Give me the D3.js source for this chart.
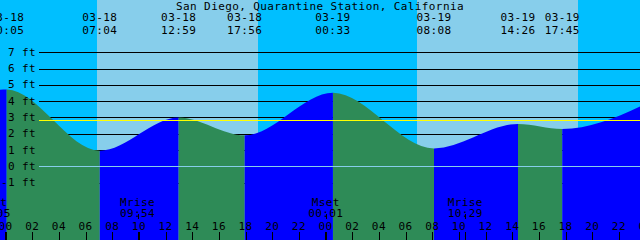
<!DOCTYPE html>
<html>
<head>
<meta charset="utf-8">
<script src="https://cdn.jsdelivr.net/npm/d3@7"></script>
<style>
  html, body { margin: 0; padding: 0; background: #fff; }
  svg { display: block; }
  text { font-family: "DejaVu Sans Mono", monospace; font-size: 11px; letter-spacing: 0.4px; fill: #000; }
</style>
</head>
<body>
<svg id="chart" width="640" height="240"></svg>
<script>
const title = 'San Diego, Quarantine Station, California';

// tide extremes (first and last are off-screen, they only shape the edges)
const tideTimes = ['03-17 17:30', '03-18 00:05', '03-18 07:04', '03-18 12:59', '03-18 17:56',
  '03-19 00:33', '03-19 08:08', '03-19 14:26', '03-19 17:45', '03-20 01:10'];
const tideHeights = [1.6, 4.72, 0.96, 3.0, 1.9, 4.52, 1.1, 2.6, 2.29, 4.3];

// daylight
const sunrise = ['03-18 06:51', '03-19 06:50'];
const sunset = ['03-18 18:54', '03-19 18:58'];

// moon events
const moonNames = ['Mset', 'Mrise', 'Mset', 'Mrise'];
const moonTimes = ['03-17 23:05', '03-18 09:54', '03-19 00:01', '03-19 10:29'];

const depthTicks = [-1, 0, 1, 2, 3, 4, 5, 6, 7];
const meanLevel = 2.82;

const colors = {
  night: '#00bfff',
  day: '#87ceeb',
  flood: '#0000ff',
  ebb: '#2e8b57',
  datum: '#87ceeb',
  mean: '#ffff00',
};

const parse = d3.utcParse('%m-%d %H:%M');
const width = 640;
const height = 240;
const svg = d3.select('#chart');

const start = parse('03-17 23:35');
const end = d3.utcHour.offset(start, 48);
const x = d3.scaleUtc().domain([start, end]).range([0, width]);
const y = d3.scaleLinear().domain([-1, 7]).range([182.6, 52.3]);

const tides = tideTimes.map((t, i) => ({ time: parse(t), h: tideHeights[i] }));

// sky: night background, day bands on top
svg.append('rect')
  .attr('width', width)
  .attr('height', height)
  .attr('fill', colors.night);

svg.append('g')
  .selectAll('rect')
  .data(sunrise)
  .join('rect')
  .attr('x', (d) => x(parse(d)))
  .attr('width', (d, i) => x(parse(sunset[i])) - x(parse(d)))
  .attr('height', height)
  .attr('fill', colors.day)
  .attr('shape-rendering', 'crispEdges');

// depth grid behind the water
svg.append('g')
  .selectAll('line')
  .data(depthTicks.filter((d) => d !== 0))
  .join('line')
  .attr('x1', 39)
  .attr('x2', width)
  .attr('y1', (d) => Math.round(y(d)) + 0.5)
  .attr('y2', (d) => Math.round(y(d)) + 0.5)
  .attr('stroke', '#000')
  .attr('shape-rendering', 'crispEdges');

// water: one area, clipped per segment between extremes
const area = d3.area()
  .x((d) => x(d.time))
  .y0(height)
  .y1((d) => y(d.h))
  .curve(d3.curveMonotoneX);
const waterPath = area(tides);

const defs = svg.append('defs');
const water = svg.append('g');
tides.slice(0, -1).forEach((d, i) => {
  const next = tides[i + 1];
  const id = `seg${i}`;
  defs.append('clipPath')
    .attr('id', id)
    .append('rect')
    .attr('x', x(d.time))
    .attr('width', x(next.time) - x(d.time))
    .attr('y', 0)
    .attr('height', height);
  water.append('path')
    .attr('d', waterPath)
    .attr('clip-path', `url(#${id})`)
    .attr('fill', next.h > d.h ? colors.flood : colors.ebb);
});

// datum and mean lines over the water
svg.append('line')
  .attr('x1', 39).attr('x2', width)
  .attr('y1', Math.round(y(0)) + 0.5).attr('y2', Math.round(y(0)) + 0.5)
  .attr('stroke', colors.datum)
  .attr('shape-rendering', 'crispEdges');
svg.append('line')
  .attr('x1', 39).attr('x2', width)
  .attr('y1', Math.round(y(meanLevel)) + 0.5).attr('y2', Math.round(y(meanLevel)) + 0.5)
  .attr('stroke', colors.mean)
  .attr('shape-rendering', 'crispEdges');

// depth labels
svg.append('g')
  .selectAll('text')
  .data(depthTicks)
  .join('text')
  .attr('x', 36)
  .attr('y', (d) => y(d) + 3.5)
  .attr('text-anchor', 'end')
  .text((d) => `${d} ft`);

// title
svg.append('text')
  .attr('x', width / 2)
  .attr('y', 10)
  .attr('text-anchor', 'middle')
  .text(title);

// extreme labels on top
const fmtDate = d3.utcFormat('%m-%d');
const fmtTime = d3.utcFormat('%H:%M');
const shown = tides.filter((d) => d.time >= start && d.time <= end);
const topLabels = svg.append('g')
  .selectAll('g')
  .data(shown)
  .join('g')
  .attr('transform', (d) => `translate(${x(d.time)},0)`);
topLabels.append('text').attr('y', 21).attr('text-anchor', 'middle').text((d) => fmtDate(d.time));
topLabels.append('text').attr('y', 34).attr('text-anchor', 'middle').text((d) => fmtTime(d.time));

// moon events
const moon = svg.append('g')
  .selectAll('g')
  .data(moonTimes.map((t, i) => ({ name: moonNames[i], time: parse(t) })))
  .join('g')
  .attr('transform', (d) => `translate(${x(d.time)},0)`);
moon.append('text').attr('y', 206).attr('text-anchor', 'middle').text((d) => d.name);
moon.append('text').attr('y', 217).attr('text-anchor', 'middle').text((d) => fmtTime(d.time));
moon.append('line')
  .attr('x1', 0.5).attr('x2', 0.5)
  .attr('y1', 214).attr('y2', 219)
  .attr('stroke', '#000')
  .attr('shape-rendering', 'crispEdges');
moon.append('line')
  .attr('x1', 0.5).attr('x2', 0.5)
  .attr('y1', 232).attr('y2', height)
  .attr('stroke', '#000')
  .attr('shape-rendering', 'crispEdges');

// hour axis along the bottom
const hours = d3.utcHour.every(2).range(d3.utcHour.ceil(start), d3.utcHour.offset(end, 1));
const hourAxis = svg.append('g')
  .selectAll('g')
  .data(hours)
  .join('g')
  .attr('transform', (d) => `translate(${x(d)},0)`);
hourAxis.append('text')
  .attr('y', 229.5)
  .attr('text-anchor', 'middle')
  .text((d) => d3.utcFormat('%H')(d));
hourAxis.append('line')
  .attr('x1', 0.5).attr('x2', 0.5)
  .attr('y1', 232).attr('y2', height)
  .attr('stroke', '#000')
  .attr('stroke-width', (d) => (d.getUTCHours() === 0 ? 2 : 1))
  .attr('shape-rendering', 'crispEdges');
</script>
</body>
</html>
